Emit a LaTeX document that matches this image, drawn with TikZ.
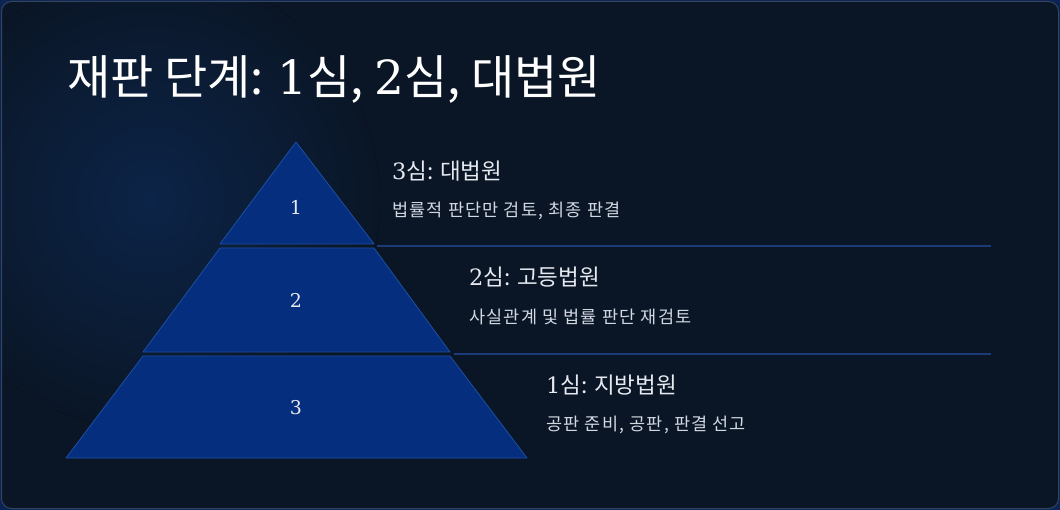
\documentclass[tikz,border=0pt]{standalone}
\usepackage{fontspec}
\setmainfont{Noto Sans CJK KR}
\newfontfamily\numfont{DejaVu Serif}
\newfontfamily\widefont[LetterSpace=7]{Noto Sans CJK KR}
\usepackage{tikz}
\usetikzlibrary{positioning}
\definecolor{pagebg}{HTML}{0B2452}
\definecolor{panelbg}{HTML}{0A1626}
\definecolor{panelglow}{HTML}{0C2448}
\definecolor{panelline}{HTML}{34445F}
\definecolor{layerfill}{HTML}{052E7E}
\definecolor{layerline}{HTML}{1D4FA3}
\definecolor{sepline}{HTML}{1B3A78}
\definecolor{headtext}{HTML}{E6EAF0}
\definecolor{subtext}{HTML}{D2D8E2}

\begin{document}
\begin{tikzpicture}[
        x=1pt, y=-1pt,
        layer/.style={fill=layerfill, draw=layerline, line width=0.8pt, line join=round},
        sep/.style={draw=sepline, line width=1.6pt},
        levelnum/.style={text=headtext, font=\numfont\fontsize{19}{22}\selectfont, inner sep=0pt},
        heading/.style={anchor=base west, inner sep=0pt, text=headtext, font=\fontsize{22.5}{26}\selectfont},
        detail/.style={anchor=base west, inner sep=0pt, text=subtext, font=\widefont\fontsize{17.5}{21}\selectfont},
        title/.style={anchor=base west, inner sep=0pt, text=white, font=\fontsize{47}{54}\selectfont}
    ]
        \useasboundingbox (0,0) rectangle (1060,510);
        \fill[pagebg] (0,0) rectangle (1060,510);
        \begin{scope}
            \clip[rounded corners=10pt] (1.5,1.5) rectangle (1058.5,508.5);
            \fill[panelbg] (0,0) rectangle (1060,510);
            \fill[inner color=panelglow, outer color=panelbg] (150,200) circle (230);
        \end{scope}
        \draw[panelline, line width=1pt, rounded corners=10pt] (1.5,1.5) rectangle (1058.5,508.5);

        \node[title] (heading) at (67,95) {재판 단계: {\numfont 1}심, {\numfont 2}심, 대법원};

        \draw[layer] (296,142) -- (374,244) -- (220,244) -- cycle;
        \draw[layer] (220,248) -- (374,248) -- (450,352) -- (143,352) -- cycle;
        \draw[layer] (143,356) -- (450,356) -- (527,458) -- (66,458) -- cycle;
        \node[levelnum] (n1) at (296,207) {1};
        \node[levelnum] (n2) at (296,300) {2};
        \node[levelnum] (n3) at (296,408) {3};

        \coordinate (s1a) at (377,246);
        \coordinate (s1b) at (991,246);
        \coordinate (s2a) at (454,354);
        \coordinate (s2b) at (991,354);
        \draw[sep] (s1a) -- (s1b);
        \draw[sep] (s2a) -- (s2b);

        \node[heading] (h3) at (392,180) {{\numfont 3}심: 대법원};
        \node[detail] (d3) at (392,217) {법률적 판단만 검토, 최종 판결};
        \node[heading] (h2) at (469,286) {{\numfont 2}심: 고등법원};
        \node[detail] (d2) at (469,324) {사실관계 및 법률 판단 재검토};
        \node[heading] (h1) at (546,394) {{\numfont 1}심: 지방법원};
        \node[detail] (d1) at (546,430) {공판 준비, 공판, 판결 선고};
    \end{tikzpicture}
\end{document}
